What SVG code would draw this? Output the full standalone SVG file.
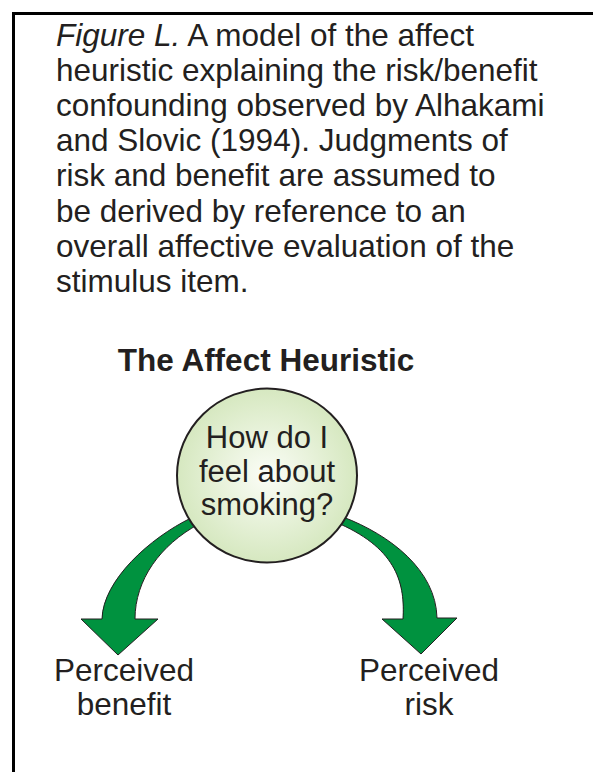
<svg xmlns="http://www.w3.org/2000/svg" width="593" height="772" viewBox="0 0 593 772">
<defs>
<radialGradient id="bub" cx="50%" cy="50%" r="50%">
<stop offset="0" stop-color="#fbfdf7"/>
<stop offset="1" stop-color="#d6e8c0"/>
</radialGradient>
</defs>
<style>
text{font-family:"Liberation Sans",Arial,sans-serif;fill:#231f20;font-size:31px}
.cap{font-size:31.5px}
.c{text-anchor:middle}
.b{font-weight:bold;font-size:31.5px}
.i{font-style:italic}
.lbl{font-size:31.5px}
.arrow{fill:#00923f;stroke:#231f20;stroke-width:1;stroke-linejoin:miter}
.frame{stroke:#000;stroke-width:3;fill:none}
</style>
<rect width="593" height="772" fill="#fff"/>
<g id="frame">
<path class="frame" d="M13.5 772 V13.5 H593"/>
</g>
<g id="caption">
<text class="cap" x="56" y="45.5"><tspan class="i">Figure L.</tspan> A model of the affect</text>
<text class="cap" x="56" y="80.7">heuristic explaining the risk/benefit</text>
<text class="cap" x="56" y="115.9">confounding observed by Alhakami</text>
<text class="cap" x="56" y="151.1">and Slovic (1994). Judgments of</text>
<text class="cap" x="56" y="186.3">risk and benefit are assumed to</text>
<text class="cap" x="56" y="221.5">be derived by reference to an</text>
<text class="cap" x="56" y="256.7">overall affective evaluation of the</text>
<text class="cap" x="56" y="291.9">stimulus item.</text>
</g>
<g id="title">
<text class="c b" x="266" y="371">The Affect Heuristic</text>
</g>
<g id="connectors">
<path class="arrow" d="M191 518 C150 538 103 580 102 619 L81 619 L118 655 L158 619 L135 619 C135 580 160 545 199 524 Z"/>
<path class="arrow" d="M343 517 C390 535 436 570 437 618 L457 618 L421 654 L382 619 L403 619 C405 585 398 550 340 524 Z"/>
</g>
<g id="affect">
<ellipse cx="267" cy="475.5" rx="90" ry="87" fill="url(#bub)" stroke="#231f20" stroke-width="2"/>
<text class="c" x="267" y="448">How do I</text>
<text class="c" x="267" y="482">feel about</text>
<text class="c" x="267" y="515">smoking?</text>
</g>
<g id="benefit">
<text class="c lbl" x="124" y="681">Perceived</text>
<text class="c lbl" x="124" y="715">benefit</text>
</g>
<g id="risk">
<text class="c lbl" x="429" y="681">Perceived</text>
<text class="c lbl" x="429" y="715">risk</text>
</g>
</svg>
